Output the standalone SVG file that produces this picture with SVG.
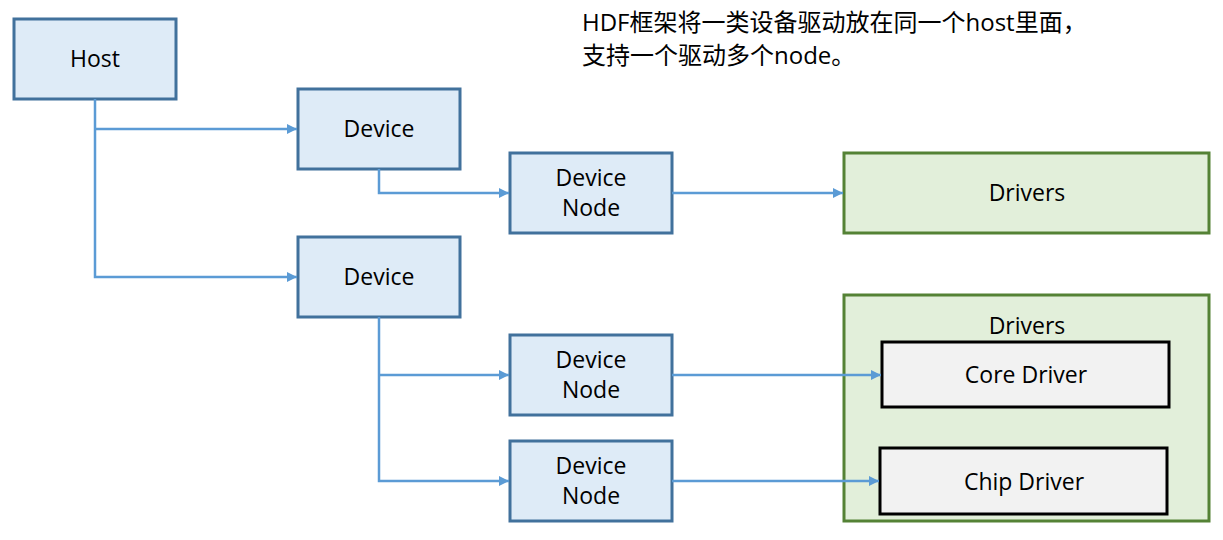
<svg xmlns="http://www.w3.org/2000/svg" width="1223" height="540" viewBox="0 0 1223 540">
<style>
.blue{fill:#DEEBF7;stroke:#41719C;stroke-width:3}
.green{fill:#E2EFDA;stroke:#548235;stroke-width:3}
.gray{fill:#F2F2F2;stroke:#000;stroke-width:3}
.t{font-family:"Open Sans","Noto Sans",sans-serif;font-size:23px;fill:#000;text-anchor:middle}
.title{font-family:"Open Sans","Noto Sans CJK SC",sans-serif;font-size:24px;fill:#000}
.c{fill:none;stroke:#5B9BD5;stroke-width:2.5}
</style>
<defs>
<marker id="arr" viewBox="0 0 10 10" refX="10" refY="5" markerWidth="4" markerHeight="4" orient="auto" markerUnits="strokeWidth">
<path d="M0,0L10,5L0,10z" fill="#5B9BD5"/>
</marker>
</defs>
<g id="host"><rect class="blue" x="14" y="19" width="162" height="80"/><text class="t" x="95" y="67">Host</text></g>
<g id="device1"><rect class="blue" x="298" y="89" width="162" height="80"/><text class="t" x="379" y="137">Device</text></g>
<g id="device2"><rect class="blue" x="298" y="237" width="162" height="80"/><text class="t" x="379" y="285">Device</text></g>
<g id="devnode1"><rect class="blue" x="510" y="153" width="162" height="80"/><text class="t" x="591" y="186">Device</text><text class="t" x="591" y="216">Node</text></g>
<g id="devnode2"><rect class="blue" x="510" y="335" width="162" height="80"/><text class="t" x="591" y="368">Device</text><text class="t" x="591" y="398">Node</text></g>
<g id="devnode3"><rect class="blue" x="510" y="441" width="162" height="80"/><text class="t" x="591" y="474">Device</text><text class="t" x="591" y="504">Node</text></g>
<g id="drivers1"><rect class="green" x="844" y="153" width="365" height="80"/><text class="t" x="1027" y="201">Drivers</text></g>
<g id="drivers2"><rect class="green" x="844" y="295" width="365" height="226"/><text class="t" x="1027" y="334">Drivers</text></g>
<g id="core"><rect class="gray" x="882" y="342" width="287" height="65"/><text class="t" x="1026" y="383">Core Driver</text></g>
<g id="chip"><rect class="gray" x="880" y="448" width="287" height="66"/><text class="t" x="1024" y="490">Chip Driver</text></g>
<g id="note"><text class="title" x="582" y="31">HDF框架将一类设备驱动放在同一个host里面，</text><text class="title" x="582" y="64">支持一个驱动多个node。</text></g>
<g id="connectors">
<path class="c" d="M95,99V277H297" marker-end="url(#arr)"/>
<path class="c" d="M95,129H297" marker-end="url(#arr)"/>
<path class="c" d="M379,169V193H509" marker-end="url(#arr)"/>
<path class="c" d="M672,193H843" marker-end="url(#arr)"/>
<path class="c" d="M379,317V481H509" marker-end="url(#arr)"/>
<path class="c" d="M379,375H509" marker-end="url(#arr)"/>
<path class="c" d="M672,375H881" marker-end="url(#arr)"/>
<path class="c" d="M672,481H879" marker-end="url(#arr)"/>
</g>
</svg>
